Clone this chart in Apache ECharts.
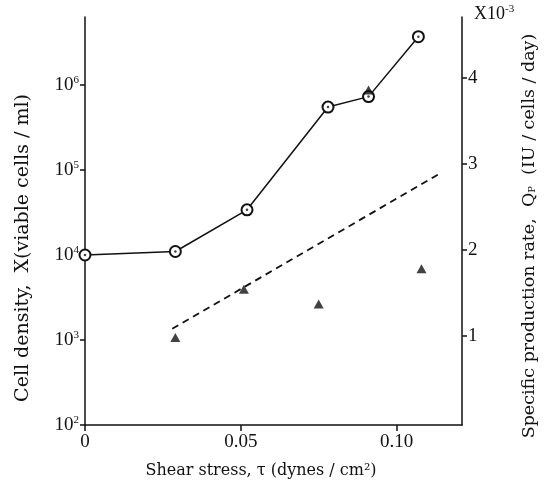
<!DOCTYPE html>
<html>
<head>
<meta charset="utf-8">
<script src="https://cdn.jsdelivr.net/npm/echarts@6/dist/echarts.min.js"></script>
<style>
  html, body { margin: 0; padding: 0; background: #fff; }
  #app { width: 546px; height: 490px; }
</style>
</head>
<body>
<div id="app"></div>
<script>
// cell density (left, log axis) vs shear stress
const shearX = [0, 0.029, 0.052, 0.078, 0.091, 0.107];
const cellDensity = [1.0e4, 1.1e4, 3.4e4, 5.5e5, 7.3e5, 3.7e6];

// specific production rate (right axis, x10^-3)
const prodX = [0.029, 0.051, 0.075, 0.091, 0.108];
const prodRate = [0.98, 1.54, 1.37, 3.86, 1.78];

// dashed trend line, end points
const fitX = [0.028, 0.114];
const fitY = [1.08, 2.89];

const xTicks = [0, 0.05, 0.1];
const leftTicks = [1e2, 1e3, 1e4, 1e5, 1e6];
const rightTicks = [1, 2, 3, 4];

const FONT = "Liberation Serif";
const TITLE_FONT = "DejaVu Serif";

const zip = (xs, ys) => xs.map((x, i) => [x, ys[i]]);

const supRich = {
  b: { fontSize: 19, fontFamily: FONT, color: "#111" },
  s: { fontSize: 11, fontFamily: FONT, color: "#111", padding: [0, 0, 10, 0] }
};

const option = {
  backgroundColor: "#fff",
  animation: false,
  grid: { left: 85, right: 81, top: 17, bottom: 65 },
  xAxis: {
    type: "value",
    min: 0,
    max: 0.121,
    interval: 0.05,
    name: "Shear stress, τ (dynes / cm²)",
    nameLocation: "middle",
    nameGap: 38,
    nameTextStyle: { fontFamily: TITLE_FONT, fontSize: 16, color: "#111", padding: [0, 25, 0, 0] },
    axisLine: { onZero: false, lineStyle: { color: "#111", width: 1.5 } },
    axisTick: { length: 6, lineStyle: { color: "#111", width: 1.5 }, customValues: xTicks },
    axisLabel: {
      customValues: xTicks,
      fontFamily: FONT, fontSize: 19, color: "#111", margin: 8,
      formatter: v => (v === 0 ? "0" : v.toFixed(2))
    },
    splitLine: { show: false }
  },
  yAxis: [
    {
      type: "log",
      min: 100,
      max: Math.pow(10, 6.8),
      position: "left",
      name: "Cell density,  X(viable cells / ml)",
      nameLocation: "middle",
      nameGap: 52,
      nameRotate: 90,
      nameTextStyle: { fontFamily: TITLE_FONT, fontSize: 19, color: "#111", padding: [0, 54, 0, 0] },
      axisLine: { show: true, lineStyle: { color: "#111", width: 1.5 } },
      axisTick: { show: true, length: 5, lineStyle: { color: "#111", width: 1.5 }, customValues: leftTicks },
      axisLabel: {
        customValues: leftTicks,
        margin: 6,
        formatter: v => "{b|10}{s|" + Math.round(Math.log10(v)) + "}",
        rich: supRich
      },
      splitLine: { show: false }
    },
    {
      type: "value",
      min: -0.04,
      max: 4.71,
      position: "right",
      name: "Specific production rate,  Q{p|P}  (IU / cells / day)",
      nameLocation: "middle",
      nameGap: 58,
      nameRotate: 90,
      nameTextStyle: {
        fontFamily: TITLE_FONT, fontSize: 17.5, color: "#111", padding: [0, 30, 0, 0],
        rich: { p: { fontFamily: TITLE_FONT, fontSize: 10, color: "#111", padding: [6, 0, 0, 0] } }
      },
      axisLine: { show: true, lineStyle: { color: "#111", width: 1.5 } },
      axisTick: { show: true, length: 5, lineStyle: { color: "#111", width: 1.5 }, customValues: rightTicks },
      axisLabel: {
        customValues: rightTicks,
        fontFamily: FONT, fontSize: 19, color: "#111", margin: 6
      },
      splitLine: { show: false }
    }
  ],
  graphic: [
    {
      type: "text",
      left: 474,
      top: 4,
      style: {
        text: "{b|X10}{s|-3}",
        rich: {
          b: { fontSize: 18, fontFamily: FONT, fill: "#111" },
          s: { fontSize: 11, fontFamily: FONT, fill: "#111", padding: [0, 0, 10, 0] }
        }
      }
    }
  ],
  series: [
    {
      type: "line",
      yAxisIndex: 0,
      data: zip(shearX, cellDensity),
      symbol: "emptyCircle",
      symbolSize: 11,
      clip: false,
      lineStyle: { color: "#111", width: 1.5 },
      itemStyle: { color: "#111", borderWidth: 1.7 },
      z: 3
    },
    {
      type: "scatter",
      yAxisIndex: 0,
      data: zip(shearX, cellDensity),
      symbol: "circle",
      symbolSize: 2.5,
      clip: false,
      itemStyle: { color: "#111" },
      z: 4
    },
    {
      type: "scatter",
      yAxisIndex: 1,
      data: zip(prodX, prodRate),
      symbol: "triangle",
      symbolSize: [10, 9],
      itemStyle: { color: "#111" },
      z: 5
    },
    {
      type: "line",
      yAxisIndex: 1,
      data: zip(fitX, fitY),
      symbol: "none",
      lineStyle: { color: "#111", width: 1.8, type: [7, 5] },
      z: 2
    }
  ]
};

const chart = echarts.init(document.getElementById("app"));
chart.setOption(option);
</script>
</body>
</html>
